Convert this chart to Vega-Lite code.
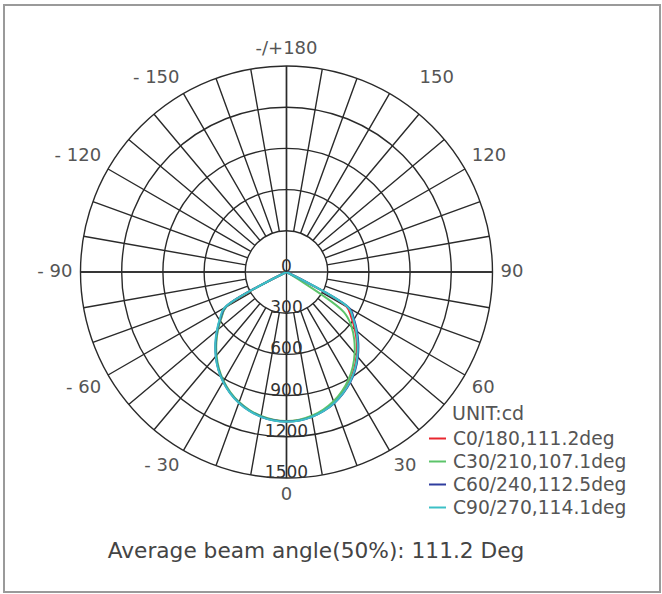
{
  "$schema": "https://vega.github.io/schema/vega-lite/v6.json",
  "width": 656,
  "height": 587,
  "autosize": {"type": "none"},
  "padding": {"left": 4, "top": 5, "right": 2, "bottom": 2},
  "background": "white",
  "config": {"view": {"stroke": "#9a9a9a", "strokeWidth": 2}},
  "title": {
    "text": "Average beam angle(50%): 111.2 Deg",
    "orient": "bottom",
    "anchor": "middle",
    "frame": "group",
    "offset": -51,
    "dx": -16,
    "font": "DejaVu Sans",
    "fontSize": 21.7,
    "fontWeight": "normal",
    "color": "#444444"
  },
  "layer": [
    {
      "data": {"values": [{"r": 300}, {"r": 600}, {"r": 900}, {"r": 1200}, {"r": 1500}]},
      "mark": {"type": "arc", "theta": 0, "theta2": 6.283185307179586, "filled": false, "stroke": "#2a2a2a", "strokeWidth": 1.4},
      "encoding": {
        "x": {"datum": 0, "type": "quantitative", "scale": {"domain": [-2057.0, 2719.7], "nice": false, "zero": false}, "axis": null},
        "y": {"datum": 0, "type": "quantitative", "scale": {"domain": [-2330.1, 1944.2], "nice": false, "zero": false}, "axis": null},
        "radius": {"field": "r", "type": "quantitative", "scale": {"type": "linear", "domain": [0, 1500], "range": [0, 206], "nice": false}},
        "radius2": {"datum": 0}
      }
    },
    {
      "data": {"values": [
        {"a": -170}, {"a": -160}, {"a": -150}, {"a": -140}, {"a": -130}, {"a": -120}, {"a": -110}, {"a": -100}, {"a": -90},
        {"a": -80}, {"a": -70}, {"a": -60}, {"a": -50}, {"a": -40}, {"a": -30}, {"a": -20}, {"a": -10}, {"a": 0},
        {"a": 10}, {"a": 20}, {"a": 30}, {"a": 40}, {"a": 50}, {"a": 60}, {"a": 70}, {"a": 80}, {"a": 90},
        {"a": 100}, {"a": 110}, {"a": 120}, {"a": 130}, {"a": 140}, {"a": 150}, {"a": 160}, {"a": 170}, {"a": 180}
      ]},
      "mark": {"type": "arc", "filled": false, "stroke": "#2a2a2a", "strokeWidth": 1.4},
      "encoding": {
        "x": {"datum": 0, "type": "quantitative", "scale": {"domain": [-2057.0, 2719.7], "nice": false, "zero": false}, "axis": null},
        "y": {"datum": 0, "type": "quantitative", "scale": {"domain": [-2330.1, 1944.2], "nice": false, "zero": false}, "axis": null},
        "theta": {"field": "a", "type": "quantitative", "scale": {"domain": [-180, 180], "range": [6.283185307179586, 0]}},
        "theta2": {"field": "a"},
        "radius": {"datum": 1500, "type": "quantitative", "scale": {"type": "linear", "domain": [0, 1500], "range": [0, 206], "nice": false}},
        "radius2": {"datum": 300}
      }
    },
    {
      "data": {"values": [{"a": -90}, {"a": 0}, {"a": 90}, {"a": 180}]},
      "mark": {"type": "arc", "filled": false, "stroke": "#2a2a2a", "strokeWidth": 1.4},
      "encoding": {
        "x": {"datum": 0, "type": "quantitative", "scale": {"domain": [-2057.0, 2719.7], "nice": false, "zero": false}, "axis": null},
        "y": {"datum": 0, "type": "quantitative", "scale": {"domain": [-2330.1, 1944.2], "nice": false, "zero": false}, "axis": null},
        "theta": {"field": "a", "type": "quantitative", "scale": {"domain": [-180, 180], "range": [6.283185307179586, 0]}},
        "theta2": {"field": "a"},
        "radius": {"datum": 1500, "type": "quantitative", "scale": {"type": "linear", "domain": [0, 1500], "range": [0, 206], "nice": false}},
        "radius2": {"datum": 0}
      }
    },
    {
      "data": {"values": [
        {"c": "C0/180,111.2deg", "a": -65, "i": 0}, {"c": "C0/180,111.2deg", "a": -60, "i": 510}, {"c": "C0/180,111.2deg", "a": -55, "i": 582},
        {"c": "C0/180,111.2deg", "a": -50, "i": 655}, {"c": "C0/180,111.2deg", "a": -45, "i": 727}, {"c": "C0/180,111.2deg", "a": -40, "i": 797},
        {"c": "C0/180,111.2deg", "a": -35, "i": 863}, {"c": "C0/180,111.2deg", "a": -30, "i": 920}, {"c": "C0/180,111.2deg", "a": -25, "i": 970},
        {"c": "C0/180,111.2deg", "a": -20, "i": 1012}, {"c": "C0/180,111.2deg", "a": -15, "i": 1044}, {"c": "C0/180,111.2deg", "a": -10, "i": 1068},
        {"c": "C0/180,111.2deg", "a": -5, "i": 1082}, {"c": "C0/180,111.2deg", "a": 0, "i": 1087}, {"c": "C0/180,111.2deg", "a": 5, "i": 1082},
        {"c": "C0/180,111.2deg", "a": 10, "i": 1067}, {"c": "C0/180,111.2deg", "a": 15, "i": 1043}, {"c": "C0/180,111.2deg", "a": 20, "i": 1010},
        {"c": "C0/180,111.2deg", "a": 25, "i": 968}, {"c": "C0/180,111.2deg", "a": 30, "i": 918}, {"c": "C0/180,111.2deg", "a": 35, "i": 860},
        {"c": "C0/180,111.2deg", "a": 40, "i": 794}, {"c": "C0/180,111.2deg", "a": 45, "i": 724}, {"c": "C0/180,111.2deg", "a": 50, "i": 650},
        {"c": "C0/180,111.2deg", "a": 55, "i": 576}, {"c": "C0/180,111.2deg", "a": 60, "i": 505}, {"c": "C0/180,111.2deg", "a": 65, "i": 0},

        {"c": "C30/210,107.1deg", "a": -65, "i": 0}, {"c": "C30/210,107.1deg", "a": -60, "i": 505}, {"c": "C30/210,107.1deg", "a": -55, "i": 578},
        {"c": "C30/210,107.1deg", "a": -50, "i": 650}, {"c": "C30/210,107.1deg", "a": -45, "i": 722}, {"c": "C30/210,107.1deg", "a": -40, "i": 792},
        {"c": "C30/210,107.1deg", "a": -35, "i": 858}, {"c": "C30/210,107.1deg", "a": -30, "i": 916}, {"c": "C30/210,107.1deg", "a": -25, "i": 966},
        {"c": "C30/210,107.1deg", "a": -20, "i": 1008}, {"c": "C30/210,107.1deg", "a": -15, "i": 1041}, {"c": "C30/210,107.1deg", "a": -10, "i": 1065},
        {"c": "C30/210,107.1deg", "a": -5, "i": 1080}, {"c": "C30/210,107.1deg", "a": 0, "i": 1085}, {"c": "C30/210,107.1deg", "a": 5, "i": 1079},
        {"c": "C30/210,107.1deg", "a": 10, "i": 1063}, {"c": "C30/210,107.1deg", "a": 15, "i": 1037}, {"c": "C30/210,107.1deg", "a": 20, "i": 1002},
        {"c": "C30/210,107.1deg", "a": 25, "i": 957}, {"c": "C30/210,107.1deg", "a": 30, "i": 904}, {"c": "C30/210,107.1deg", "a": 35, "i": 842},
        {"c": "C30/210,107.1deg", "a": 40, "i": 772}, {"c": "C30/210,107.1deg", "a": 45, "i": 698}, {"c": "C30/210,107.1deg", "a": 50, "i": 618},
        {"c": "C30/210,107.1deg", "a": 55, "i": 510}, {"c": "C30/210,107.1deg", "a": 60, "i": 0},

        {"c": "C60/240,112.5deg", "a": -65, "i": 0}, {"c": "C60/240,112.5deg", "a": -60, "i": 515}, {"c": "C60/240,112.5deg", "a": -55, "i": 586},
        {"c": "C60/240,112.5deg", "a": -50, "i": 658}, {"c": "C60/240,112.5deg", "a": -45, "i": 730}, {"c": "C60/240,112.5deg", "a": -40, "i": 800},
        {"c": "C60/240,112.5deg", "a": -35, "i": 865}, {"c": "C60/240,112.5deg", "a": -30, "i": 922}, {"c": "C60/240,112.5deg", "a": -25, "i": 972},
        {"c": "C60/240,112.5deg", "a": -20, "i": 1013}, {"c": "C60/240,112.5deg", "a": -15, "i": 1046}, {"c": "C60/240,112.5deg", "a": -10, "i": 1070},
        {"c": "C60/240,112.5deg", "a": -5, "i": 1084}, {"c": "C60/240,112.5deg", "a": 0, "i": 1089}, {"c": "C60/240,112.5deg", "a": 5, "i": 1085},
        {"c": "C60/240,112.5deg", "a": 10, "i": 1071}, {"c": "C60/240,112.5deg", "a": 15, "i": 1048}, {"c": "C60/240,112.5deg", "a": 20, "i": 1017},
        {"c": "C60/240,112.5deg", "a": 25, "i": 976}, {"c": "C60/240,112.5deg", "a": 30, "i": 928}, {"c": "C60/240,112.5deg", "a": 35, "i": 872},
        {"c": "C60/240,112.5deg", "a": 40, "i": 808}, {"c": "C60/240,112.5deg", "a": 45, "i": 740}, {"c": "C60/240,112.5deg", "a": 50, "i": 670},
        {"c": "C60/240,112.5deg", "a": 55, "i": 600}, {"c": "C60/240,112.5deg", "a": 60, "i": 532}, {"c": "C60/240,112.5deg", "a": 65, "i": 0},

        {"c": "C90/270,114.1deg", "a": -65, "i": 0}, {"c": "C90/270,114.1deg", "a": -60, "i": 522}, {"c": "C90/270,114.1deg", "a": -55, "i": 592},
        {"c": "C90/270,114.1deg", "a": -50, "i": 662}, {"c": "C90/270,114.1deg", "a": -45, "i": 733}, {"c": "C90/270,114.1deg", "a": -40, "i": 802},
        {"c": "C90/270,114.1deg", "a": -35, "i": 867}, {"c": "C90/270,114.1deg", "a": -30, "i": 924}, {"c": "C90/270,114.1deg", "a": -25, "i": 973},
        {"c": "C90/270,114.1deg", "a": -20, "i": 1015}, {"c": "C90/270,114.1deg", "a": -15, "i": 1047}, {"c": "C90/270,114.1deg", "a": -10, "i": 1071},
        {"c": "C90/270,114.1deg", "a": -5, "i": 1085}, {"c": "C90/270,114.1deg", "a": 0, "i": 1090}, {"c": "C90/270,114.1deg", "a": 5, "i": 1085},
        {"c": "C90/270,114.1deg", "a": 10, "i": 1071}, {"c": "C90/270,114.1deg", "a": 15, "i": 1047}, {"c": "C90/270,114.1deg", "a": 20, "i": 1015},
        {"c": "C90/270,114.1deg", "a": 25, "i": 973}, {"c": "C90/270,114.1deg", "a": 30, "i": 924}, {"c": "C90/270,114.1deg", "a": 35, "i": 867},
        {"c": "C90/270,114.1deg", "a": 40, "i": 802}, {"c": "C90/270,114.1deg", "a": 45, "i": 733}, {"c": "C90/270,114.1deg", "a": 50, "i": 662},
        {"c": "C90/270,114.1deg", "a": 55, "i": 592}, {"c": "C90/270,114.1deg", "a": 60, "i": 522}, {"c": "C90/270,114.1deg", "a": 65, "i": 0}
      ]},
      "transform": [
        {"calculate": "datum.i * sin(datum.a * PI / 180)", "as": "px"},
        {"calculate": "-datum.i * cos(datum.a * PI / 180)", "as": "py"}
      ],
      "mark": {"type": "line", "strokeWidth": 2, "interpolate": "catmull-rom"},
      "encoding": {
        "x": {"field": "px", "type": "quantitative", "scale": {"domain": [-2057.0, 2719.7], "nice": false, "zero": false}, "axis": null},
        "y": {"field": "py", "type": "quantitative", "scale": {"domain": [-2330.1, 1944.2], "nice": false, "zero": false}, "axis": null},
        "order": {"field": "a", "type": "quantitative"},
        "color": {
          "field": "c",
          "type": "nominal",
          "scale": {
            "domain": ["C0/180,111.2deg", "C30/210,107.1deg", "C60/240,112.5deg", "C90/270,114.1deg"],
            "range": ["#e8262f", "#5cc46a", "#2f3d9e", "#3cc0c6"]
          },
          "legend": {
            "orient": "none",
            "legendX": 448,
            "legendY": 400,
            "title": "UNIT:cd",
            "titleFont": "DejaVu Sans",
            "titleFontSize": 19,
            "titleFontWeight": "normal",
            "titleColor": "#555555",
            "titlePadding": 5,
            "labelFont": "DejaVu Sans",
            "labelFontSize": 18.7,
            "labelColor": "#555555",
            "labelLimit": 300,
            "labelOffset": 6,
            "symbolOffset": -24,
            "symbolType": "stroke",
            "symbolSize": 289,
            "symbolStrokeWidth": 2,
            "rowPadding": 3,
            "padding": 0
          }
        }
      }
    },
    {
      "data": {"values": [
        {"v": 0, "t": "0"}, {"v": 300, "t": "300"}, {"v": 600, "t": "600"}, {"v": 900, "t": "900"}, {"v": 1200, "t": "1200"}, {"v": 1500, "t": "1500"}
      ]},
      "mark": {"type": "text", "font": "DejaVu Sans", "fontSize": 17, "color": "#333333", "align": "center", "baseline": "alphabetic"},
      "encoding": {
        "x": {"datum": 0, "type": "quantitative", "scale": {"domain": [-2057.0, 2719.7], "nice": false, "zero": false}, "axis": null},
        "y": {"datum": 0, "type": "quantitative", "scale": {"domain": [-2330.1, 1944.2], "nice": false, "zero": false}, "axis": null},
        "theta": {"datum": 0, "type": "quantitative", "scale": {"domain": [-180, 180], "range": [6.283185307179586, 0]}},
        "radius": {"field": "v", "type": "quantitative", "scale": {"type": "linear", "domain": [0, 1500], "range": [0, 206], "nice": false}},
        "text": {"field": "t", "type": "nominal"}
      }
    },
    {
      "data": {"values": [
        {"a": 180, "t": "-/+180"}, {"a": 150, "t": "150"}, {"a": 120, "t": "120"}, {"a": 90, "t": "90"}, {"a": 60, "t": "60"}, {"a": 30, "t": "30"},
        {"a": 0, "t": "0"}, {"a": -30, "t": "- 30"}, {"a": -60, "t": "- 60"}, {"a": -90, "t": "- 90"}, {"a": -120, "t": "- 120"}, {"a": -150, "t": "- 150"}
      ]},
      "mark": {
        "type": "text",
        "font": "DejaVu Sans",
        "fontSize": 18,
        "color": "#555555",
        "radius": 214,
        "align": {"expr": "datum.a == 0 || abs(datum.a) == 180 ? 'center' : (datum.a > 0 ? 'left' : 'right')"},
        "baseline": {"expr": "abs(datum.a) == 90 ? 'middle' : (abs(datum.a) > 90 ? 'bottom' : 'top')"},
        "dx": {"expr": "datum.a == 150 ? 26 : 0"}
      },
      "encoding": {
        "x": {"datum": 0, "type": "quantitative", "scale": {"domain": [-2057.0, 2719.7], "nice": false, "zero": false}, "axis": null},
        "y": {"datum": 0, "type": "quantitative", "scale": {"domain": [-2330.1, 1944.2], "nice": false, "zero": false}, "axis": null},
        "theta": {"field": "a", "type": "quantitative", "scale": {"domain": [-180, 180], "range": [6.283185307179586, 0]}},
        "text": {"field": "t", "type": "nominal"}
      }
    }
  ]
}
